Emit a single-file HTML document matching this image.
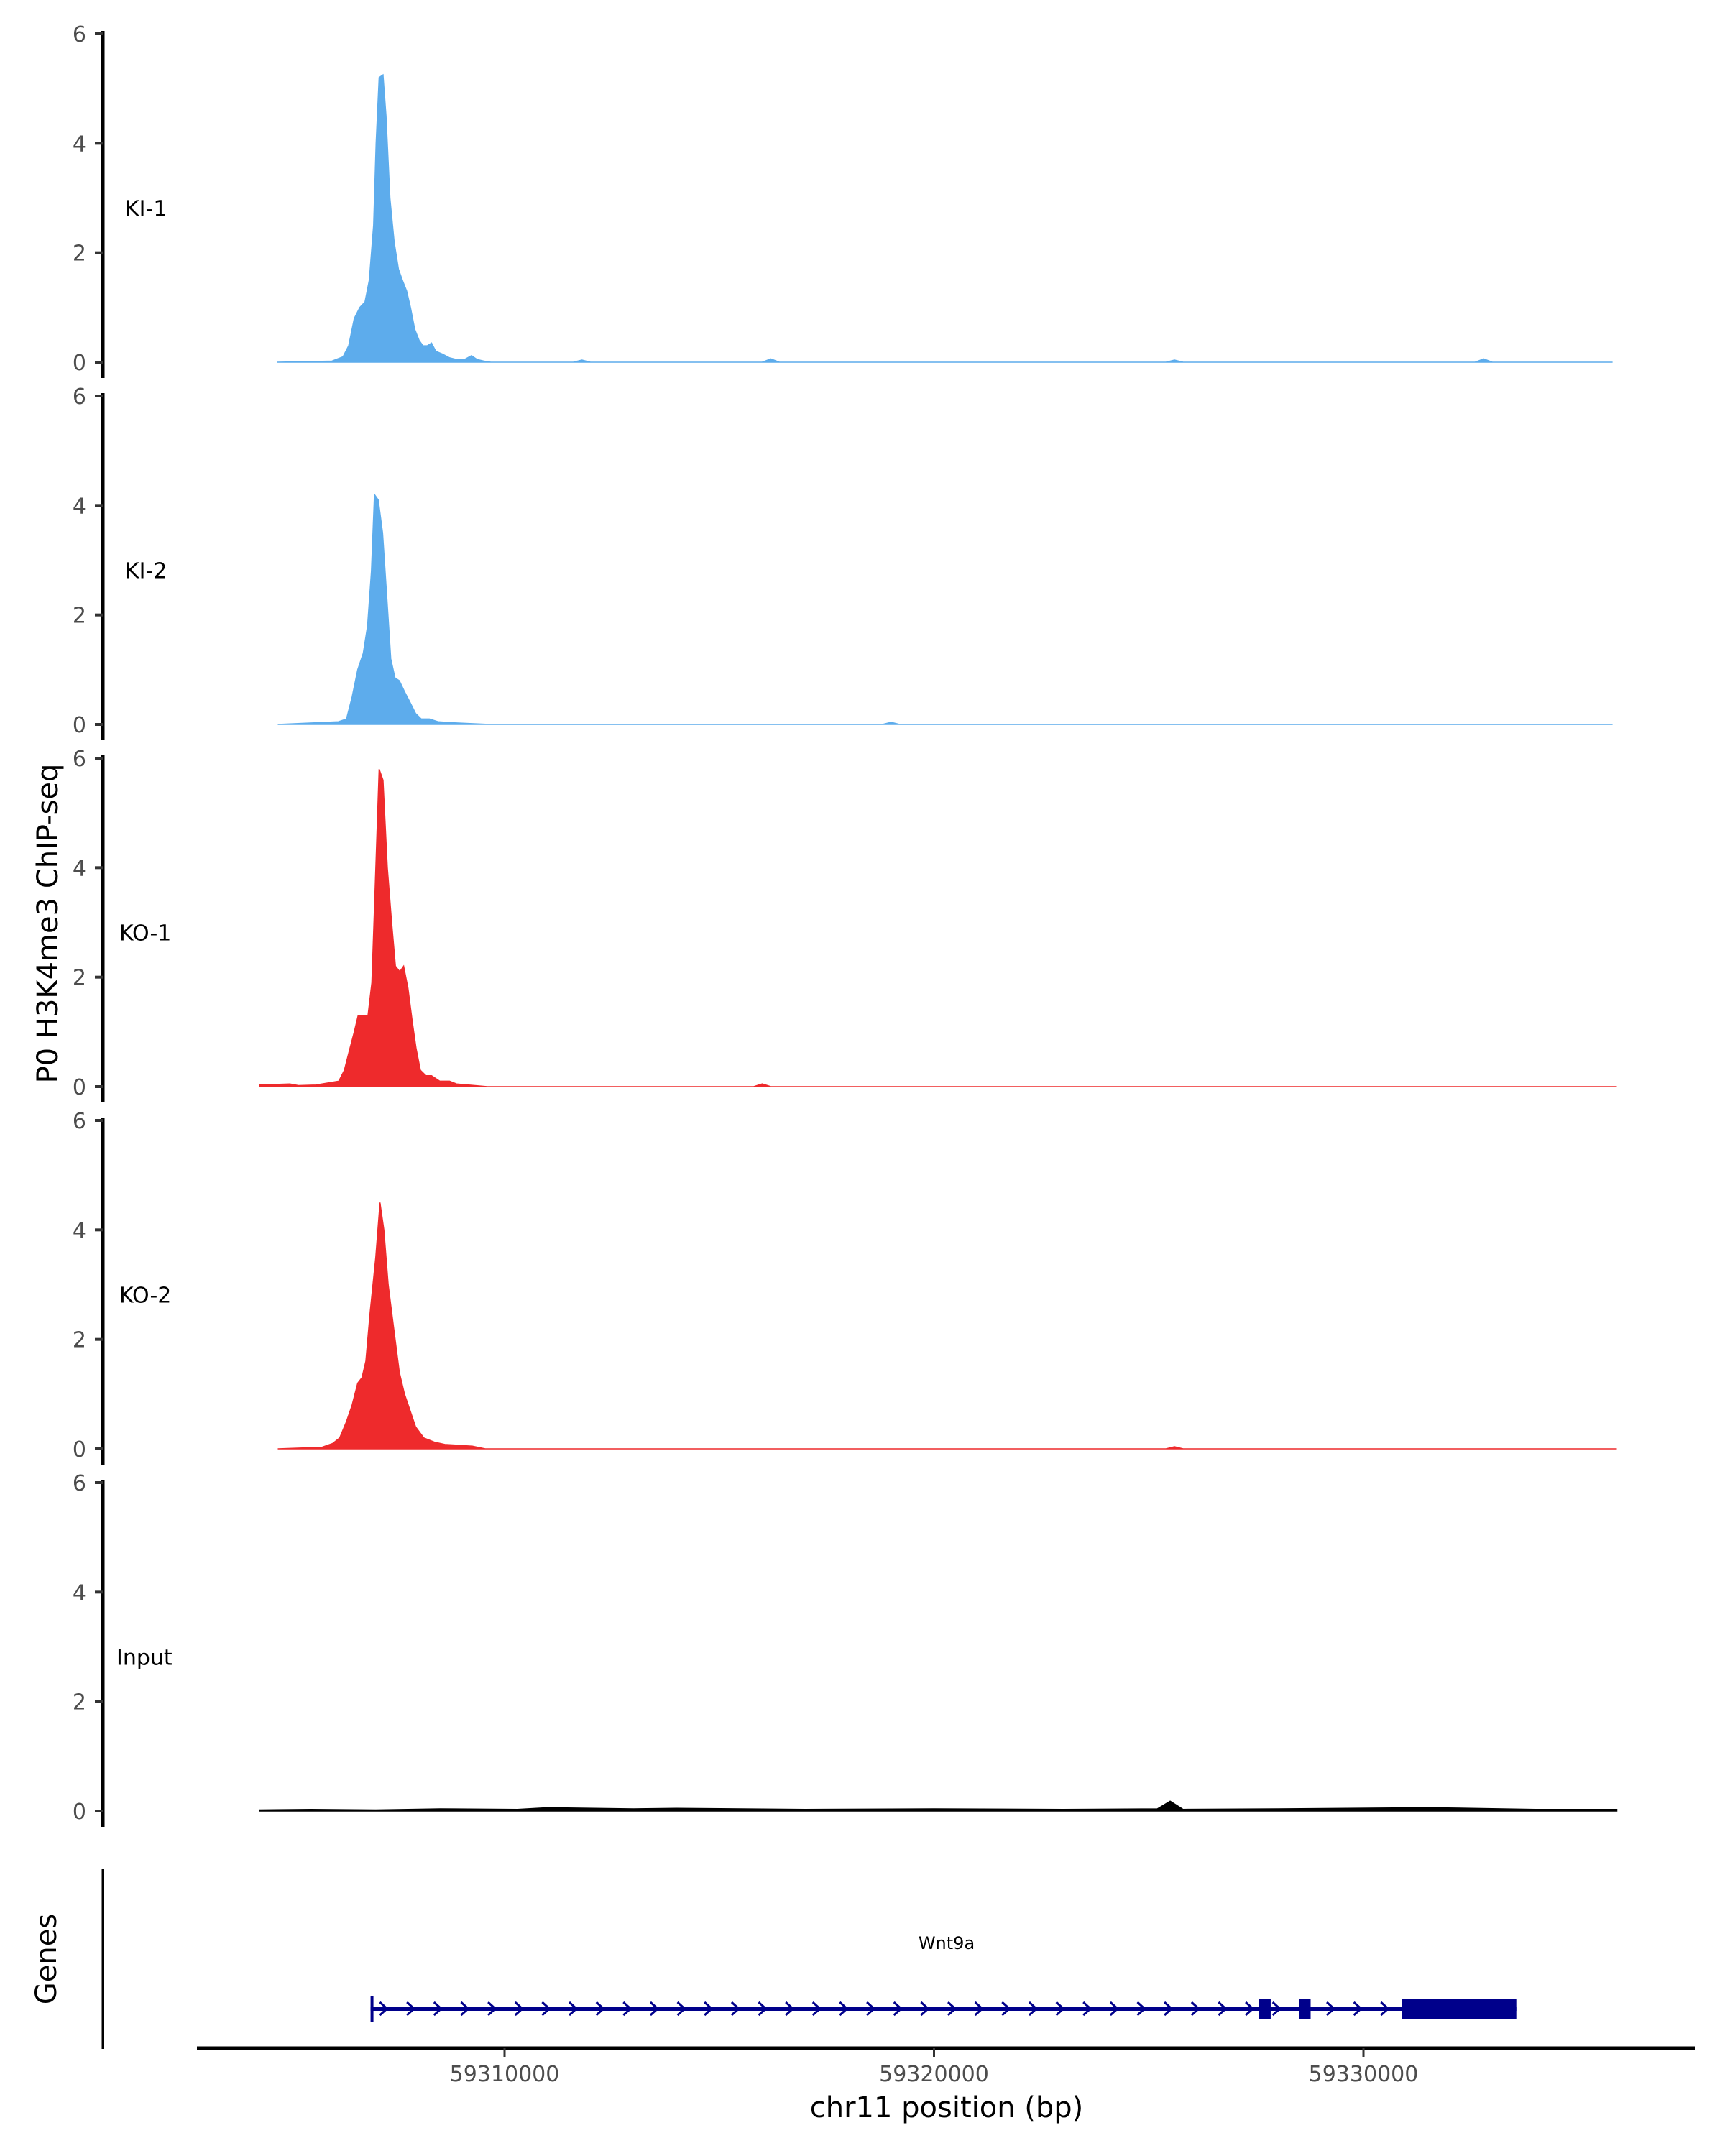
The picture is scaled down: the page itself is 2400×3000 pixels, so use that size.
<!DOCTYPE html>
<html><head><meta charset="utf-8"><style>
html,body{margin:0;padding:0;background:#fff;}
svg{display:block;font-family:"DejaVu Sans","Liberation Sans",sans-serif;}
</style></head><body>
<svg id="chart" width="2400" height="3000" viewBox="0 0 2400 3000" xmlns="http://www.w3.org/2000/svg">
<text x="0" y="0" font-size="40" fill="#000" text-anchor="middle" transform="translate(80,1285) rotate(-90)">P0 H3K4me3 ChIP-seq</text>
<text x="0" y="0" font-size="40" fill="#000" text-anchor="middle" transform="translate(78,2726) rotate(-90)">Genes</text>
<text x="1317" y="2946" font-size="40" fill="#000" text-anchor="middle">chr11 position (bp)</text>
<text x="1317" y="2712" font-size="24" fill="#000" text-anchor="middle">Wnt9a</text>
</svg>
<script>
// ---- data (positions in kb on chr11, values = signal) ----
const trackNames = ["KI-1","KI-2","KO-1","KO-2","Input"];
const trackColors = ["#5DACEC","#5DACEC","#EE2A2C","#EE2A2C","#000000"];
const yTicks = [0,2,4,6];
const xTickKb = [59310,59320,59330];
const xTickLabels = ["59310000","59320000","59330000"];

const ki1Pos = [59304.70,59305.98,59306.24,59306.37,59306.50,59306.63,59306.75,59306.85,59306.95,59307.01,59307.08,59307.17,59307.24,59307.33,59307.43,59307.53,59307.62,59307.72,59307.81,59307.91,59308.01,59308.10,59308.20,59308.30,59308.40,59308.55,59308.72,59308.88,59309.07,59309.23,59309.36,59309.52,59309.68,59311.6,59311.8,59312.0,59316.0,59316.2,59316.4,59325.4,59325.6,59325.8,59332.6,59332.8,59333.0,59335.8];
const ki1Val = [0,0.02,0.1,0.3,0.8,1.0,1.1,1.5,2.5,4.0,5.2,5.25,4.5,3.0,2.2,1.7,1.5,1.3,1.0,0.6,0.4,0.3,0.3,0.35,0.2,0.15,0.08,0.05,0.05,0.12,0.05,0.02,0,0,0.04,0,0,0.06,0,0,0.04,0,0,0.06,0,0];
const ki2Pos = [59304.72,59306.13,59306.32,59306.45,59306.58,59306.71,59306.81,59306.90,59306.97,59307.06,59307.16,59307.26,59307.35,59307.45,59307.55,59307.67,59307.80,59307.93,59308.06,59308.25,59308.45,59308.83,59309.65,59318.8,59319.0,59319.2,59335.8];
const ki2Val = [0,0.05,0.1,0.5,1.0,1.3,1.8,2.8,4.2,4.1,3.5,2.3,1.2,0.85,0.8,0.6,0.4,0.2,0.1,0.1,0.05,0.03,0,0,0.04,0,0];
const ko1Pos = [59304.3,59305.0,59305.2,59305.6,59306.14,59306.27,59306.40,59306.50,59306.59,59306.72,59306.82,59306.91,59306.98,59307.08,59307.17,59307.27,59307.37,59307.46,59307.56,59307.65,59307.75,59307.85,59307.94,59308.04,59308.17,59308.30,59308.49,59308.72,59308.88,59309.6,59315.8,59316.0,59316.2,59335.9];
const ko1Val = [0.03,0.05,0.02,0.03,0.1,0.3,0.7,1.0,1.3,1.3,1.3,1.9,3.5,5.8,5.6,4.0,3.0,2.2,2.1,2.2,1.8,1.2,0.7,0.3,0.2,0.2,0.1,0.1,0.05,0,0,0.05,0,0];
const ko2Pos = [59304.72,59305.75,59306.00,59306.16,59306.32,59306.45,59306.58,59306.68,59306.77,59306.87,59307.00,59307.10,59307.19,59307.29,59307.42,59307.55,59307.67,59307.80,59307.93,59308.12,59308.38,59308.61,59309.25,59309.55,59325.4,59325.6,59325.8,59335.9];
const ko2Val = [0,0.03,0.1,0.2,0.5,0.8,1.2,1.3,1.6,2.5,3.5,4.5,4.0,3.0,2.2,1.4,1.0,0.7,0.4,0.2,0.12,0.08,0.05,0,0,0.04,0,0];
const inpPos = [59304.3,59305.5,59307.0,59308.5,59310.3,59311.0,59313.0,59314.0,59317.0,59320.0,59323.0,59325.2,59325.5,59325.8,59328.0,59331.5,59332.5,59334.0,59335.9];
const inpVal = [0.02,0.03,0.02,0.04,0.03,0.06,0.04,0.05,0.03,0.04,0.03,0.04,0.18,0.03,0.04,0.06,0.05,0.03,0.03];

const trackPos = [ki1Pos,ki2Pos,ko1Pos,ko2Pos,inpPos];
const trackVal = [ki1Val,ki2Val,ko1Val,ko2Val,inpVal];

// gene model (kb)
const geneStart = 59306.88, geneEnd = 59333.56;
const exonStarts = [59306.88,59327.57,59328.5,59330.9];
const exonEnds   = [59306.94,59327.84,59328.77,59333.56];
const exonHeights = [36,28,28,28];

// ---- axes ----
const svg = document.getElementById('chart');
const NS = 'http://www.w3.org/2000/svg';
function xScale(kb){ return 702 + (kb - 59310) * 59.75; }
const panelTop0 = 47, panelStep = 504, panelH = 457;
function yScale(i, v){ return panelTop0 + panelStep*i + panelH - v/6*panelH; }
function mk(tag, attrs){ const e=document.createElementNS(NS,tag); for(const k in attrs) e.setAttribute(k,attrs[k]); svg.appendChild(e); return e; }

for (let i=0;i<trackNames.length;i++){
  const y0 = yScale(i,0), y6 = yScale(i,6);
  const ax = mk('line',{x1:143,x2:143,y1:y6-4,y2:y0+22,stroke:'#000','stroke-width':5});
  
  
  for (const t of yTicks){
    const yy = yScale(i,t);
    const tk = mk('line',{x1:132,x2:143,y1:yy,y2:yy,stroke:'#333','stroke-width':4});
    
    
    const tl = mk('text',{x:120,y:yy+11,'font-size':30,fill:'#4d4d4d','text-anchor':'end'});
    tl.textContent = t;
    
    
  }
  const pos = trackPos[i], val = trackVal[i];
  let d = 'M'+xScale(pos[0]).toFixed(1)+','+y0;
  for (let j=0;j<pos.length;j++) d += 'L'+xScale(pos[j]).toFixed(1)+','+yScale(i,val[j]).toFixed(1);
  d += 'L'+xScale(pos[pos.length-1]).toFixed(1)+','+y0+'Z';
  const area = mk('path',{d:d,fill:trackColors[i],stroke:trackColors[i],'stroke-width':1.5});
  
  
  const lab = mk('text',{x:i===4?162:(i>=2?166:174),y:yScale(i,2.8)+10,'font-size':30,fill:'#000'});
  lab.textContent = trackNames[i];
  
  
}

// genes panel
const gax = mk('line',{x1:143,x2:143,y1:2601,y2:2851,stroke:'#000','stroke-width':3});


const xax = mk('line',{x1:274,x2:2358,y1:2850,y2:2850,stroke:'#000','stroke-width':5});


for (let k=0;k<xTickKb.length;k++){
  const xx = xScale(xTickKb[k]);
  const t = mk('line',{x1:xx,x2:xx,y1:2850,y2:2862,stroke:'#333','stroke-width':3});
  
  
  const tl = mk('text',{x:xx,y:2896,'font-size':30,fill:'#4d4d4d','text-anchor':'middle'});
  tl.textContent = xTickLabels[k];
  
  
}
const gy = 2795;
const gl = mk('line',{x1:xScale(geneStart),x2:xScale(geneEnd),y1:gy,y2:gy,stroke:'#00008B','stroke-width':6});


for (let kb=geneStart+0.3; kb<exonStarts[3]; kb+=0.63){
  const xx = xScale(kb);
  const ch = mk('path',{d:`M${xx-5},${gy-9}L${xx+5},${gy}L${xx-5},${gy+9}`,fill:'none',stroke:'#00008B','stroke-width':3});
  
  
}
for (let k=0;k<exonStarts.length;k++){
  const x1 = xScale(exonStarts[k]), x2 = xScale(exonEnds[k]);
  const h = exonHeights[k];
  const ex = mk('rect',{x:x1,y:gy-h/2,width:Math.max(4,x2-x1),height:h,fill:'#00008B'});
  
  
}
</script>
</body></html>
